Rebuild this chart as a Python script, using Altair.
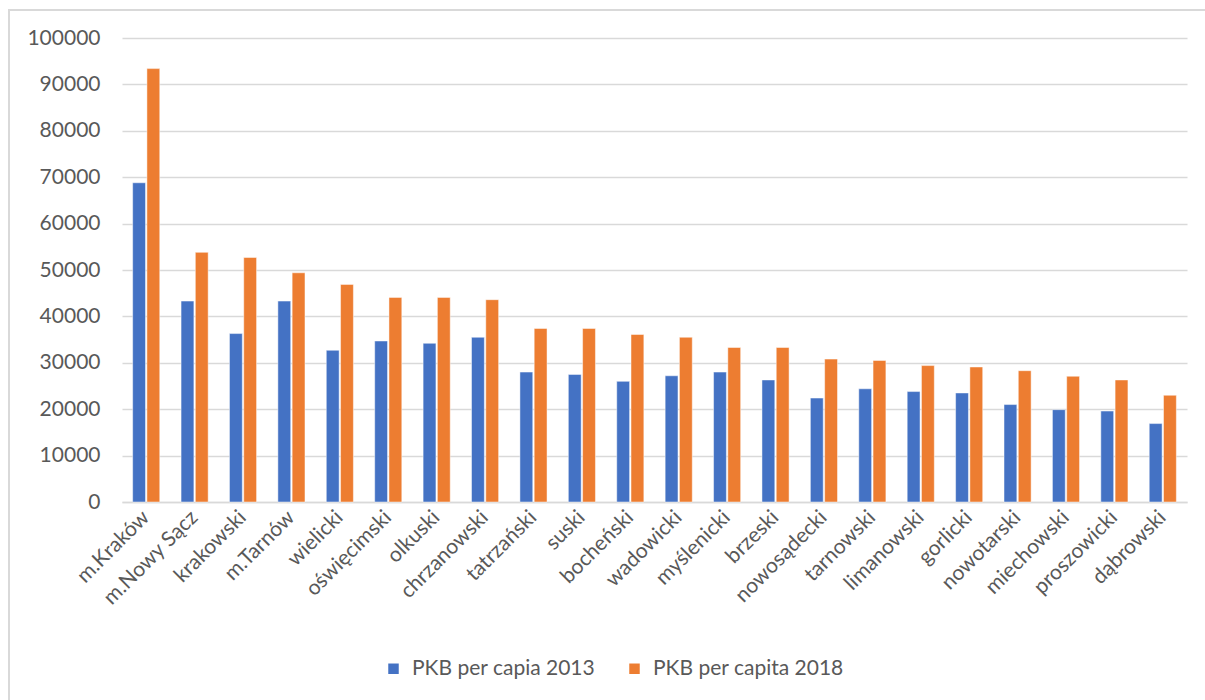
import altair as alt
import pandas as pd

# GDP per capita by county/city (Małopolska), 2013 vs 2018
regions = ["m.Kraków", "m.Nowy Sącz", "krakowski", "m.Tarnów", "wielicki",
           "oświęcimski", "olkuski", "chrzanowski", "tatrzański", "suski",
           "bocheński", "wadowicki", "myślenicki", "brzeski", "nowosądecki",
           "tarnowski", "limanowski", "gorlicki", "nowotarski", "miechowski",
           "proszowicki", "dąbrowski"]
pkb_2013 = [68800, 43300, 36300, 43300, 32700, 34700, 34200, 35500, 28000, 27500,
            26000, 27200, 28000, 26300, 22400, 24400, 23800, 23500, 21000, 19900,
            19600, 16900]
pkb_2018 = [93400, 53800, 52700, 49400, 46900, 44100, 44100, 43600, 37400, 37400,
            36100, 35500, 33300, 33300, 30800, 30500, 29400, 29100, 28300, 27100,
            26300, 23000]
series = ["PKB per capia 2013", "PKB per capita 2018"]
colors = ["#4472C4", "#ED7D31"]

rows = []
for i, r in enumerate(regions):
    rows.append({"region": r, "series": series[0], "value": pkb_2013[i]})
    rows.append({"region": r, "series": series[1], "value": pkb_2018[i]})
df = pd.DataFrame(rows)

FONT = "Lato"
TEXT = "#595959"
GRID = "#D9D9D9"

W, H = 1065, 464
PAD = {"left": 122, "top": 38, "right": 18, "bottom": 198}

bars = alt.Chart(df).mark_bar(stroke="white", strokeWidth=0.8, strokeOpacity=0.6).encode(
    x=alt.X("region:N", sort=regions, title=None,
            scale=alt.Scale(paddingInner=0.44, paddingOuter=0.22),
            axis=alt.Axis(labelAngle=-45, labelAlign="right", labelBaseline="middle",
                          labelFont=FONT, labelFontSize=21, labelColor=TEXT,
                          labelPadding=12, ticks=False, domainColor=GRID,
                          domainWidth=1.5, grid=False, labelOverlap=False,
                          labelLimit=0)),
    xOffset=alt.XOffset("series:N", sort=series, scale=alt.Scale(paddingInner=0.1)),
    y=alt.Y("value:Q", title=None,
            scale=alt.Scale(domain=[0, 100000], nice=False),
            axis=alt.Axis(values=list(range(0, 100001, 10000)), format="d",
                          labelFont=FONT, labelFontSize=21, labelColor=TEXT,
                          labelPadding=22, ticks=False, domain=False,
                          gridColor=GRID, gridWidth=1.5)),
    color=alt.Color("series:N", sort=series,
                    scale=alt.Scale(domain=series, range=colors),
                    legend=alt.Legend(title=None, orient="none", direction="horizontal",
                                      legendX=261, legendY=620, symbolType="square",
                                      symbolSize=110, symbolStrokeWidth=0,
                                      labelFont=FONT, labelFontSize=21, labelColor=TEXT,
                                      labelLimit=0, columnPadding=28, labelOffset=8)),
)

# light outer frame around the chart
frame = alt.Chart(pd.DataFrame({"a": [0]})).mark_rect(
    fillOpacity=0, stroke=GRID, strokeWidth=2, clip=False
).encode(
    x=alt.value(-113), x2=alt.value(W + PAD["right"] + 10),
    y=alt.value(-28), y2=alt.value(H + PAD["bottom"] + 10),
)

chart = alt.layer(frame, bars).properties(
    width=W, height=H,
    padding=PAD,
    autosize=alt.AutoSizeParams(type="none"),
    background="white",
).configure_view(stroke=None)

chart.save("out.html", embed_options={"renderer": "svg", "actions": False})
